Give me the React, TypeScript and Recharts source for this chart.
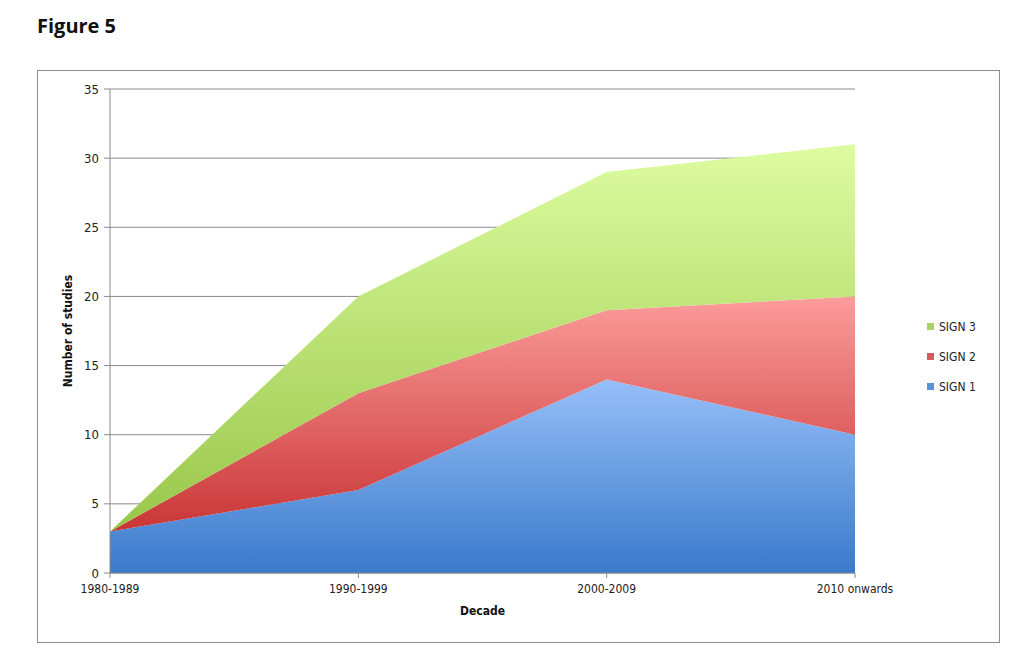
import React from "react";
import {
  Area,
  AreaChart,
  CartesianGrid,
  Legend,
  XAxis,
  YAxis,
} from "recharts";

const decades = ["1980-1989", "1990-1999", "2000-2009", "2010 onwards"];
const sign1 = [3, 6, 14, 10];
const sign2 = [0, 7, 5, 10];
const sign3 = [0, 7, 10, 11];
const yTicks = [0, 5, 10, 15, 20, 25, 30, 35];

const SERIES = [
  { key: "sign1", name: "SIGN 1", top: "#96bff9", bottom: "#3a7acb", swatch: "#5b8fd8" },
  { key: "sign2", name: "SIGN 2", top: "#fb9c9b", bottom: "#c93535", swatch: "#d9585a" },
  { key: "sign3", name: "SIGN 3", top: "#ddfca0", bottom: "#98c649", swatch: "#a9d465" },
];

const data = decades.map((d, i) => ({
  decade: d,
  sign1: sign1[i],
  sign2: sign2[i],
  sign3: sign3[i],
}));

const FONT = "'DejaVu Sans Condensed', 'Liberation Sans', sans-serif";

const LegendBox = () => (
  <div style={{ width: 60, fontFamily: FONT, fontSize: 12, color: "#222" }}>
    {[...SERIES].reverse().map((s) => (
      <div
        key={s.key}
        style={{ display: "flex", alignItems: "center", height: 30 }}
      >
        <span
          style={{
            display: "inline-block",
            width: 7,
            height: 7,
            background: s.swatch,
            marginRight: 5,
          }}
        />
        {s.name}
      </div>
    ))}
  </div>
);

export default function App() {
  return (
    <div
      style={{
        position: "absolute",
        left: 0,
        top: 0,
        width: 1032,
        height: 672,
        background: "#fff",
      }}
    >
      <div
        style={{
          position: "absolute",
          left: 37,
          top: 12,
          fontFamily: "'Open Sans', 'Liberation Sans', sans-serif",
          fontWeight: 700,
          fontSize: 20,
          color: "#111",
        }}
      >
        Figure 5
      </div>
      <div
        style={{
          position: "absolute",
          left: 37,
          top: 70,
          width: 961,
          height: 571,
          border: "1px solid #8c8c8c",
        }}
      >
        <AreaChart
          width={961}
          height={571}
          data={data}
          margin={{ top: 18, right: 84, bottom: 39, left: 22 }}
        >
          <defs>
            {SERIES.map((s) => (
              <linearGradient key={s.key} id={`g-${s.key}`} x1="0" y1="0" x2="0" y2="1">
                <stop offset="0%" stopColor={s.top} />
                <stop offset="100%" stopColor={s.bottom} />
              </linearGradient>
            ))}
          </defs>
          <CartesianGrid vertical={false} stroke="#8a8a8a" strokeWidth={1} />
          <XAxis
            dataKey="decade"
            stroke="#8a8a8a"
            tickLine={{ stroke: "#8a8a8a" }}
            tickSize={5}
            tick={{ fill: "#222", fontSize: 12, fontFamily: FONT }}
            tickMargin={6}
            height={30}
            label={{
              value: "Decade",
              position: "insideBottom",
              offset: -12,
              style: { fill: "#111", fontSize: 12, fontWeight: 700, fontFamily: FONT },
            }}
          />
          <YAxis
            domain={[0, 35]}
            ticks={yTicks}
            interval={0}
            stroke="#8a8a8a"
            tickLine={{ stroke: "#8a8a8a" }}
            tickSize={6}
            tick={{ fill: "#222", fontSize: 13, fontFamily: FONT }}
            tickMargin={5}
            width={50}
            label={{
              value: "Number of studies",
              angle: -90,
              position: "insideLeft",
              offset: 0,
              dx: 8,
              style: {
                textAnchor: "middle",
                fill: "#111",
                fontSize: 12,
                fontWeight: 700,
                fontFamily: FONT,
              },
            }}
          />
          <Legend
            layout="vertical"
            align="right"
            verticalAlign="middle"
            content={<LegendBox />}
            wrapperStyle={{ right: 12 }}
          />
          {SERIES.map((s) => (
            <Area
              key={s.key}
              type="linear"
              dataKey={s.key}
              name={s.name}
              stackId="1"
              stroke="none"
              fill={`url(#g-${s.key})`}
              fillOpacity={1}
              isAnimationActive={false}
            />
          ))}
        </AreaChart>
      </div>
    </div>
  );
}
